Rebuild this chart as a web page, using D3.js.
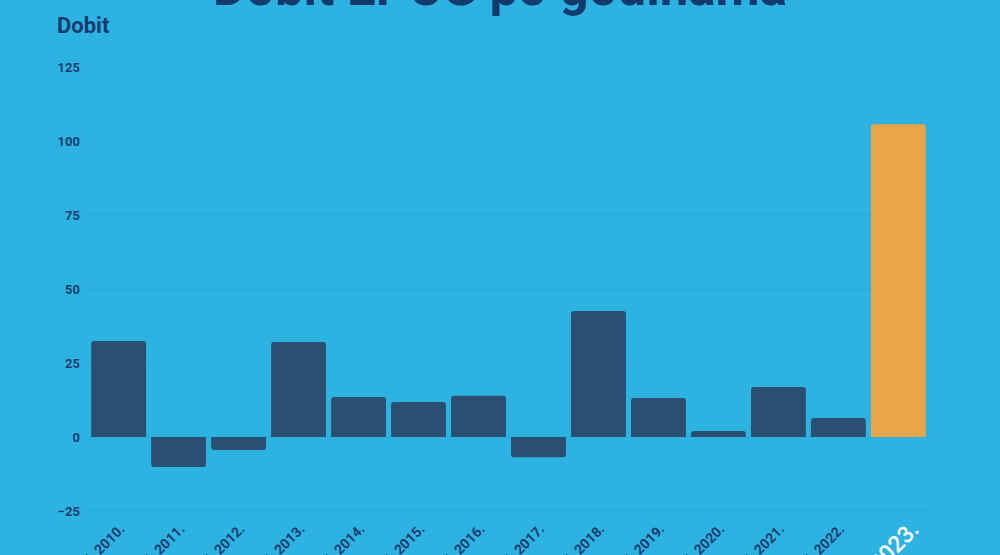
<!DOCTYPE html>
<html><head><meta charset="utf-8">
<script src="https://cdn.jsdelivr.net/npm/d3@7"></script>
<style>
html,body{margin:0;padding:0;background:#2DB3E2;}
svg{display:block;font-family:Roboto,"Noto Sans",sans-serif;}
</style></head>
<body><svg id="c" width="1000" height="555"></svg>
<script>
const years = ["2010.","2011.","2012.","2013.","2014.","2015.","2016.","2017.","2018.","2019.","2020.","2021.","2022.","2023."];
const labels = years.map(y => "god. " + y);
const values = [32.4,-10.1,-4.4,32.1,13.5,11.8,13.9,-6.8,42.6,13.2,2.0,16.9,6.4,105.7];
const yTicks = [-25,0,25,50,75,100,125];

const svg = d3.select("#c");
svg.append("rect").attr("width",1000).attr("height",555).attr("fill","#2DB3E2");

const x = d3.scaleBand().domain(labels).range([90,927]).paddingInner(0.085).paddingOuter(0.02);
const y = d3.scaleLinear().domain([-25,125]).range([511,67]);

// grid
svg.append("g").selectAll("line").data(yTicks).join("line")
  .attr("x1",90).attr("x2",927).attr("y1",d=>y(d)).attr("y2",d=>y(d))
  .attr("stroke","#28A9D8").attr("stroke-width",1);

// y axis labels
const yAxis = d3.axisLeft(y).tickValues(yTicks).tickSize(0).tickPadding(10);
const ga = svg.append("g").attr("transform","translate(90,0)").call(yAxis);
ga.select(".domain").remove();
ga.selectAll("text").attr("font-size",13).attr("font-weight",700).attr("fill","#1A3D6E")
  .attr("font-family","Roboto, sans-serif");

// bars
function barPath(x0,w,v){
  const r=3, z=y(0), t=y(v);
  if(v>=0){
    return `M${x0},${z}V${t+r}Q${x0},${t} ${x0+r},${t}H${x0+w-r}Q${x0+w},${t} ${x0+w},${t+r}V${z}Z`;
  } else {
    return `M${x0},${z}V${t-r}Q${x0},${t} ${x0+r},${t}H${x0+w-r}Q${x0+w},${t} ${x0+w},${t-r}V${z}Z`;
  }
}
svg.append("g").selectAll("path").data(values).join("path")
  .attr("d",(d,i)=>barPath(x(labels[i]),x.bandwidth(),d))
  .attr("fill",(d,i)=> i===values.length-1 ? "#EAA548" : "#2A4F72");

// x labels
const xl = svg.append("g");
labels.forEach((l,i)=>{
  const last = i===labels.length-1;
  const cx = x(l)+x.bandwidth()/2;
  xl.append("text")
    .attr("transform",`translate(${cx+ (last?22:7)},${last?531:530}) rotate(-45)`)
    .attr("text-anchor","end")
    .attr("font-size",last?23:14).attr("font-weight",last?500:700)
    .attr("fill",last?"#FFFFFF":"#1A3D6E")
    .text(l);
});

// title
svg.append("text").attr("x",500).attr("y",5).attr("text-anchor","middle")
  .attr("font-size",51).attr("font-weight",700).attr("fill","#133A6E")
  .text("Dobit EPCG po godinama");
svg.append("text").attr("x",57).attr("y",33)
  .attr("font-size",22).attr("font-weight",700).attr("fill","#163C6E")
  .text("Dobit");
</script></body></html>
